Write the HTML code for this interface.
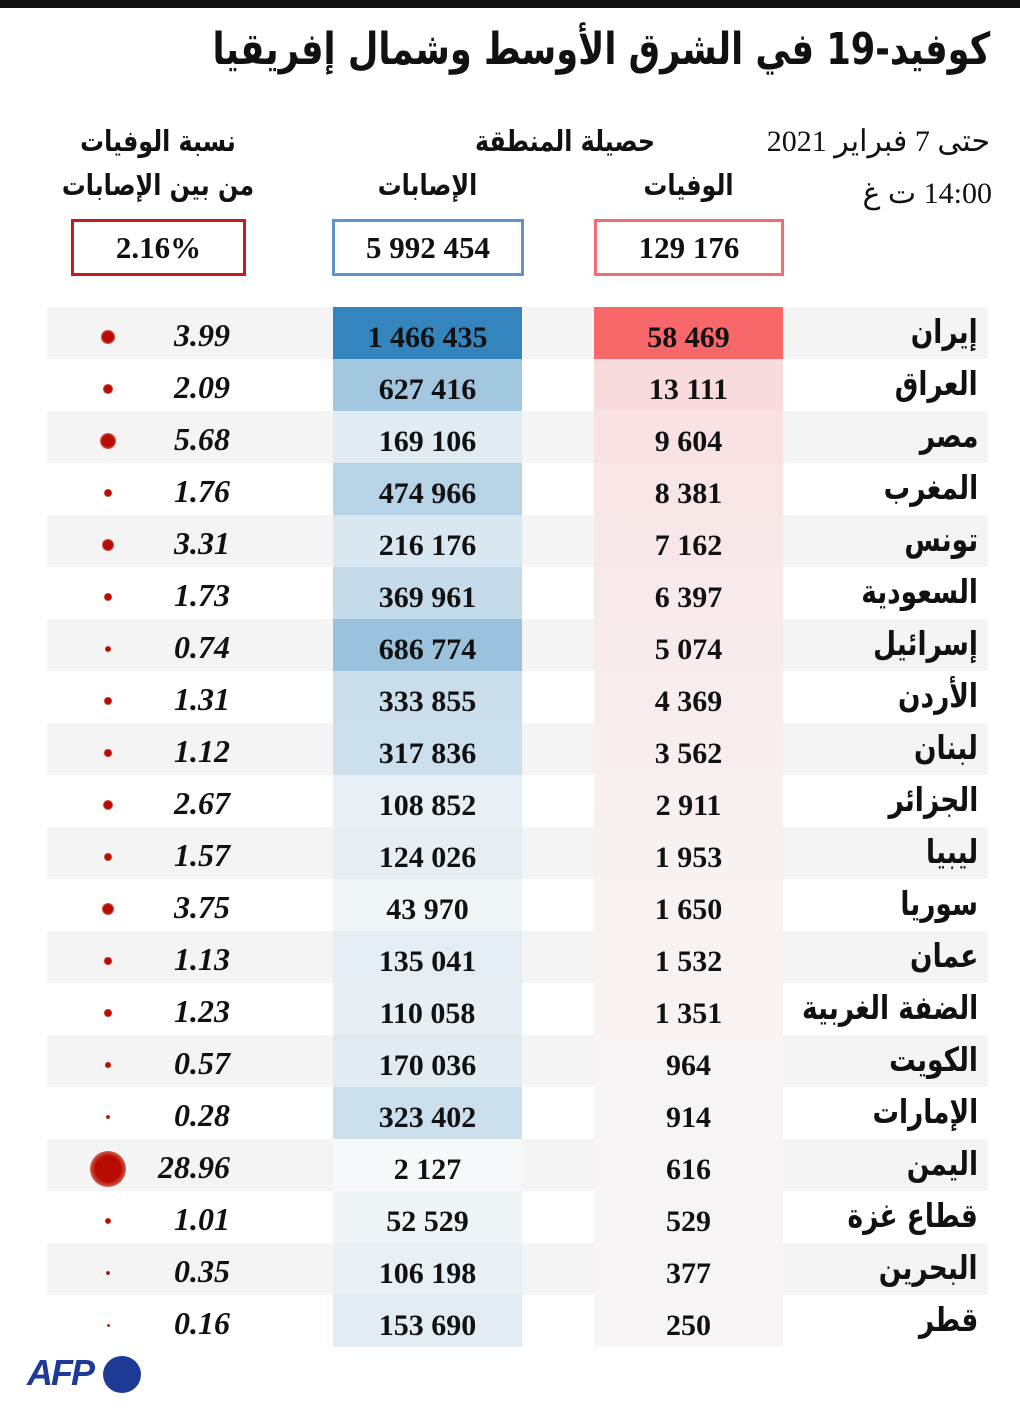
<!DOCTYPE html>
<html><head><meta charset="utf-8"><style>
body{margin:0;width:1020px;height:1408px;background:#fff;position:relative;overflow:hidden;font-family:"Liberation Serif","Noto Serif CJK SC",serif;color:#111}
.a{position:absolute}
.t{position:absolute;font-weight:bold;white-space:nowrap}
.ar{font-family:"DejaVu Sans",sans-serif;direction:rtl;transform-origin:right center}
.arc{font-family:"DejaVu Sans",sans-serif;direction:rtl;transform-origin:center center}
.box{position:absolute;border:3px solid;box-sizing:border-box;top:219px;height:57px;font-size:31px;font-weight:bold;text-align:center;line-height:52px}
</style></head><body>
<div class="a" style="left:0;top:0;width:1020px;height:8px;background:#111"></div>
<div class="t ar" style="right:30px;top:24px;font-size:44px;transform:scaleX(0.8)">كوفيد-19 في الشرق الأوسط وشمال إفريقيا</div>
<div class="t" style="right:30px;top:124px;font-size:30px;direction:rtl;font-weight:normal">حتى 7 فبراير 2021</div>
<div class="t" style="right:28px;top:176px;font-size:30px;direction:rtl;font-weight:normal">14:00 ت غ</div>
<div class="t arc" style="left:430px;width:270px;text-align:center;top:124px;font-size:29px;transform:scaleX(0.82)">حصيلة المنطقة</div>
<div class="t arc" style="left:594px;width:189px;text-align:center;top:168px;font-size:29px;transform:scaleX(0.82)">الوفيات</div>
<div class="t arc" style="left:333px;width:189px;text-align:center;top:168px;font-size:29px;transform:scaleX(0.82)">الإصابات</div>
<div class="t arc" style="left:40px;width:236px;text-align:center;top:124px;font-size:29px;transform:scaleX(0.82)">نسبة الوفيات</div>
<div class="t arc" style="left:40px;width:236px;text-align:center;top:168px;font-size:29px;transform:scaleX(0.82)">من بين الإصابات</div>
<div class="box" style="left:71px;width:175px;border-color:#c11f1f">2.16%</div>
<div class="box" style="left:332px;width:192px;border-color:#5f93c9">5 992 454</div>
<div class="box" style="left:594px;width:190px;border-color:#f26d75">129 176</div>
<div id="rows"></div>
<div class="t" style="left:27px;top:1352px;font-size:36px;color:#1e3a96;font-family:'Liberation Sans',sans-serif;font-style:italic;letter-spacing:-2px">AFP</div>
<div class="a" style="left:103px;top:1356px;width:38px;height:37px;border-radius:50%;background:#1e3a96"></div>
<script>
var d=[["إيران",58469,1466435,"3.99"],["العراق",13111,627416,"2.09"],["مصر",9604,169106,"5.68"],["المغرب",8381,474966,"1.76"],["تونس",7162,216176,"3.31"],["السعودية",6397,369961,"1.73"],["إسرائيل",5074,686774,"0.74"],["الأردن",4369,333855,"1.31"],["لبنان",3562,317836,"1.12"],["الجزائر",2911,108852,"2.67"],["ليبيا",1953,124026,"1.57"],["سوريا",1650,43970,"3.75"],["عمان",1532,135041,"1.13"],["الضفة الغربية",1351,110058,"1.23"],["الكويت",964,170036,"0.57"],["الإمارات",914,323402,"0.28"],["اليمن",616,2127,"28.96"],["قطاع غزة",529,52529,"1.01"],["البحرين",377,106198,"0.35"],["قطر",250,153690,"0.16"]];
function f(n){return String(n).replace(/\B(?=(\d{3})+(?!\d))/g," ");}
function L(a,b,t){return Math.round(a+(b-a)*t);}
var h="";
d.forEach(function(r,i){
 var y=307+i*52;
 if(i%2==0)h+='<div class="a" style="left:47px;top:'+y+'px;width:941px;height:52px;background:#f4f4f4"></div>';
 var tb=r[2]/1466435, tr=r[1]/58469;
 if(r[1]<58469) tr=tr*0.8;
 var bc='rgb('+L(246,52,tb)+','+L(248,133,tb)+','+L(249,189,tb)+')';
 var rc='rgb('+L(248,248,tr)+','+L(245,104,tr)+','+L(246,107,tr)+')';
 h+='<div class="a" style="left:333px;top:'+y+'px;width:189px;height:52px;background:'+bc+'"></div>';
 h+='<div class="a" style="left:594px;top:'+y+'px;width:189px;height:52px;background:'+rc+'"></div>';
 h+='<div class="t" style="left:333px;width:189px;text-align:center;top:'+(y+14)+'px;font-size:30px">'+f(r[2])+'</div>';
 h+='<div class="t" style="left:594px;width:189px;text-align:center;top:'+(y+14)+'px;font-size:30px">'+f(r[1])+'</div>';
 h+='<div class="t ar" style="right:42px;top:'+(y+5)+'px;font-size:33px;transform:scaleX(0.8)">'+r[0]+'</div>';
 h+='<div class="t" style="right:790px;top:'+(y+10)+'px;font-size:32px;font-style:italic">'+r[3]+'</div>';
 var dia=Math.max(3,36*Math.sqrt(parseFloat(r[3])/28.96));
 h+='<div class="a" style="left:'+(108-dia/2)+'px;top:'+(y+30-dia/2)+'px;width:'+dia+'px;height:'+dia+'px;border-radius:50%;background:radial-gradient(circle,#b80c00 50%,rgba(200,40,20,0.6) 78%,rgba(255,255,255,0) 100%)"></div>';
});
document.getElementById("rows").innerHTML=h;
</script>
</body></html>
